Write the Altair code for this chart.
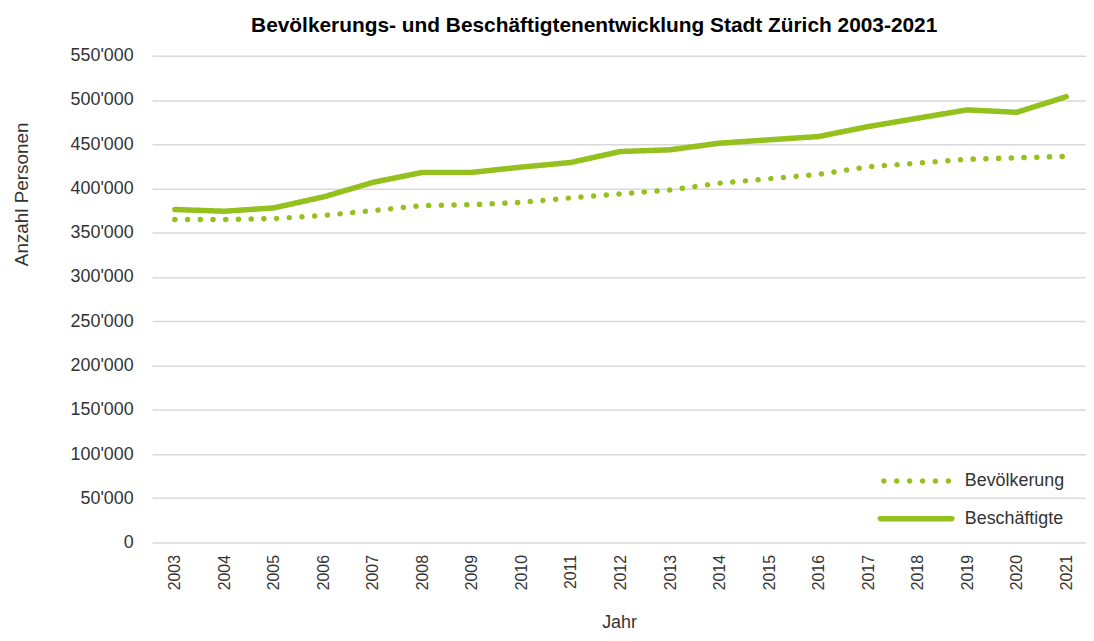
import math
import altair as alt
import pandas as pd

years = list(range(2003, 2022))
bevoelkerung = [365000, 365000, 366000, 369500, 375000, 380600, 381700, 384400, 389400, 393900,
                 398300, 406000, 411000, 416000, 424500, 428700, 433000, 434700, 436300]
beschaeftigte = [376300, 374300, 378100, 390500, 406900, 418200, 418200, 424200, 429400, 441800,
                 443700, 451200, 455000, 458700, 469900, 479400, 488800, 486100, 503700]
series = ["Bevölkerung", "Beschäftigte"]

rows = []
for i, y in enumerate(years):
    rows.append({"Jahr": y, "Serie": series[0], "Linie": "dot", "Wert": bevoelkerung[i]})
    rows.append({"Jahr": y, "Serie": series[1], "Linie": "solid", "Wert": beschaeftigte[i]})
df = pd.DataFrame(rows)

GREEN = "#95C11F"
FONT = "Liberation Sans"
TXT = "#333333"


def poly(cx, r, n=10):
    pts = []
    for k in range(n):
        a = 2 * math.pi * (k + 0.5) / n
        pts.append(f"{cx + r * math.cos(a):.3f},{r * math.sin(a):.3f}")
    return "M" + "L".join(pts) + "Z"


def dots_path(n=6, r=0.28, x0=-3.25, step=1.3):
    return "".join(poly(x0 + k * step, r) for k in range(n))


def bar_path(half=3.6, r=0.28, n=6):
    pts = []
    for k in range(n + 1):
        a = -math.pi / 2 + math.pi * k / n
        pts.append(f"{half + r * math.cos(a):.3f},{r * math.sin(a):.3f}")
    for k in range(n + 1):
        a = math.pi / 2 + math.pi * k / n
        pts.append(f"{-half + r * math.cos(a):.3f},{r * math.sin(a):.3f}")
    return "M" + "L".join(pts) + "Z"


x_enc = alt.X("Jahr:Q",
              scale=alt.Scale(domain=[2002.54, 2021.4], nice=False, zero=False),
              axis=alt.Axis(values=years, format="d", labelAngle=-90, labelPadding=12,
                            grid=False, domain=False, ticks=False, labelFontSize=16,
                            labelFont=FONT, labelColor=TXT, title="Jahr",
                            titleFontSize=18, titleFont=FONT, titleFontWeight="normal",
                            titleColor=TXT, titlePadding=24))
y_enc = alt.Y("Wert:Q",
              scale=alt.Scale(domain=[0, 550000], nice=False),
              axis=alt.Axis(values=list(range(0, 550001, 50000)),
                            labelExpr="replace(format(datum.value, ','), ',', \"'\")",
                            labelFontSize=18, labelFont=FONT, labelColor=TXT, labelPadding=19,
                            ticks=False, domain=False, grid=True, gridColor="#d9d9d9",
                            gridWidth=1.5, title="Anzahl Personen", titleFontSize=19,
                            titleFont=FONT, titleFontWeight="normal", titleColor=TXT,
                            titleAngle=-90, titleX=-131, titleY=139, titleAlign="center",
                            titleBaseline="middle"))

lines = alt.Chart(df).mark_line(
    strokeWidth=5.5, strokeCap="round", strokeJoin="round", color=GREEN
).encode(
    x=x_enc,
    y=y_enc,
    strokeDash=alt.StrokeDash("Linie:N",
                              scale=alt.Scale(domain=["dot", "solid"],
                                              range=[[0.1, 12.7], [1, 0]]),
                              legend=None),
)

legend_pts = alt.Chart(df).mark_point(filled=True, opacity=0, color=GREEN).encode(
    x=alt.X("Jahr:Q"),
    y=alt.Y("Wert:Q"),
    shape=alt.Shape("Serie:N",
                    scale=alt.Scale(domain=series, range=[dots_path(), bar_path()]),
                    legend=alt.Legend(
                        title=None, orient="none", legendX=759, legendY=418,
                        symbolSize=400, symbolStrokeWidth=0, symbolFillColor=GREEN,
                        symbolOpacity=1, labelOffset=39, rowPadding=19,
                        labelFontSize=18, labelFont=FONT, labelColor=TXT, padding=0)),
)

chart = alt.layer(lines, legend_pts).properties(
    width=940, height=490,
    padding={"left": 5, "top": 5, "right": 0, "bottom": 0},
    title=alt.TitleParams(
        "Bevölkerungs- und Beschäftigtenentwicklung Stadt Zürich 2003-2021",
        font=FONT, fontSize=21, fontWeight="bold", color="#000000",
        anchor="middle", dx=-25, offset=11),
).configure_view(stroke=None)

chart.save("out.html", embed_options={"renderer": "svg", "actions": False})
